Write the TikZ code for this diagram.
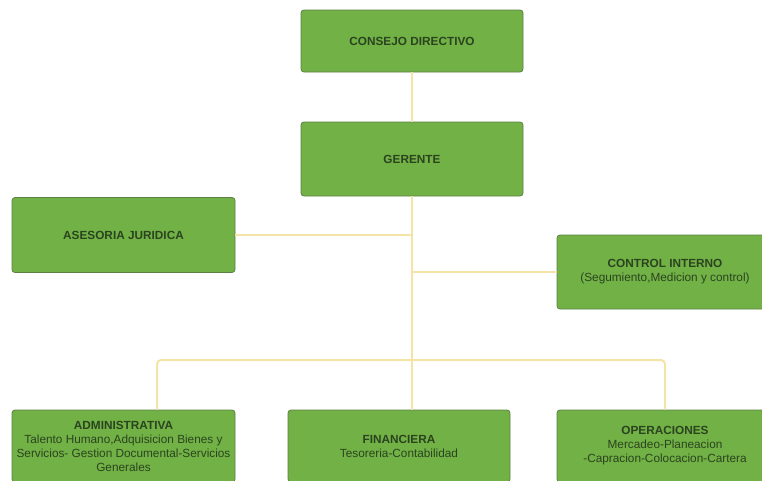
\documentclass[tikz,border=0pt]{standalone}
\usepackage{fontspec}
\setmainfont{Liberation Sans}
\definecolor{boxfill}{HTML}{72B145}
\definecolor{boxedge}{HTML}{5C7F45}
\definecolor{boxtext}{HTML}{2A4420}
\definecolor{link}{HTML}{F4E4A6}
\tikzset{
  orgbox/.style={draw=boxedge, line width=0.8pt, fill=boxfill, rounded corners=3pt,
    text=boxtext, align=center, font=\fontsize{11.8}{14}\selectfont, inner sep=2pt},
  connector/.style={draw=link, line width=2pt, rounded corners=4pt}
}
\begin{document}
\begin{tikzpicture}[x=1pt,y=-1pt]
\useasboundingbox (0,0) rectangle (762,480);
\clip (0,0) rectangle (762,480);
\node[orgbox, minimum width=222pt, minimum height=62pt] (consejo) at (412,41) {\textbf{CONSEJO DIRECTIVO}};
\node[orgbox, minimum width=222pt, minimum height=74pt] (gerente) at (412,159) {\textbf{GERENTE}};
\node[orgbox, minimum width=223pt, minimum height=75pt] (asesoria) at (123.5,235) {\textbf{ASESORIA JURIDICA}};
\node[orgbox, minimum width=216pt, minimum height=74pt] (control) at (665,272) {\textbf{CONTROL INTERNO}\\(Segumiento,Medicion y control)};
\node[orgbox, minimum width=223pt, minimum height=72pt] (admin) at (123.5,446) {\textbf{ADMINISTRATIVA}\\Talento Humano,Adquisicion Bienes y\\Servicios- Gestion Documental-Servicios\\Generales};
\node[orgbox, minimum width=222pt, minimum height=72pt] (finan) at (399,446) {\textbf{FINANCIERA}\\Tesoreria-Contabilidad};
\node[orgbox, minimum width=216pt, minimum height=72pt] (oper) at (665,446) {\textbf{OPERACIONES}\\Mercadeo-Planeacion\\-Capracion-Colocacion-Cartera};
\coordinate (bus) at (412,360);
\coordinate (jA) at (412,235);
\coordinate (jC) at (412,272);
\coordinate (busL) at (157,360);
\coordinate (busR) at (665,360);
\path[connector] (consejo.south -| bus) -- (gerente.north -| bus);
\path[connector] (gerente.south -| bus) -- (bus);
\path[connector] (asesoria.east) -- (jA);
\path[connector] (jC) -- (control.west);
\path[connector] (admin.north -| busL) -- (busL) -- (busR) -- (oper.north);
\path[connector] (bus) -- (finan.north -| bus);
\end{tikzpicture}
\end{document}
